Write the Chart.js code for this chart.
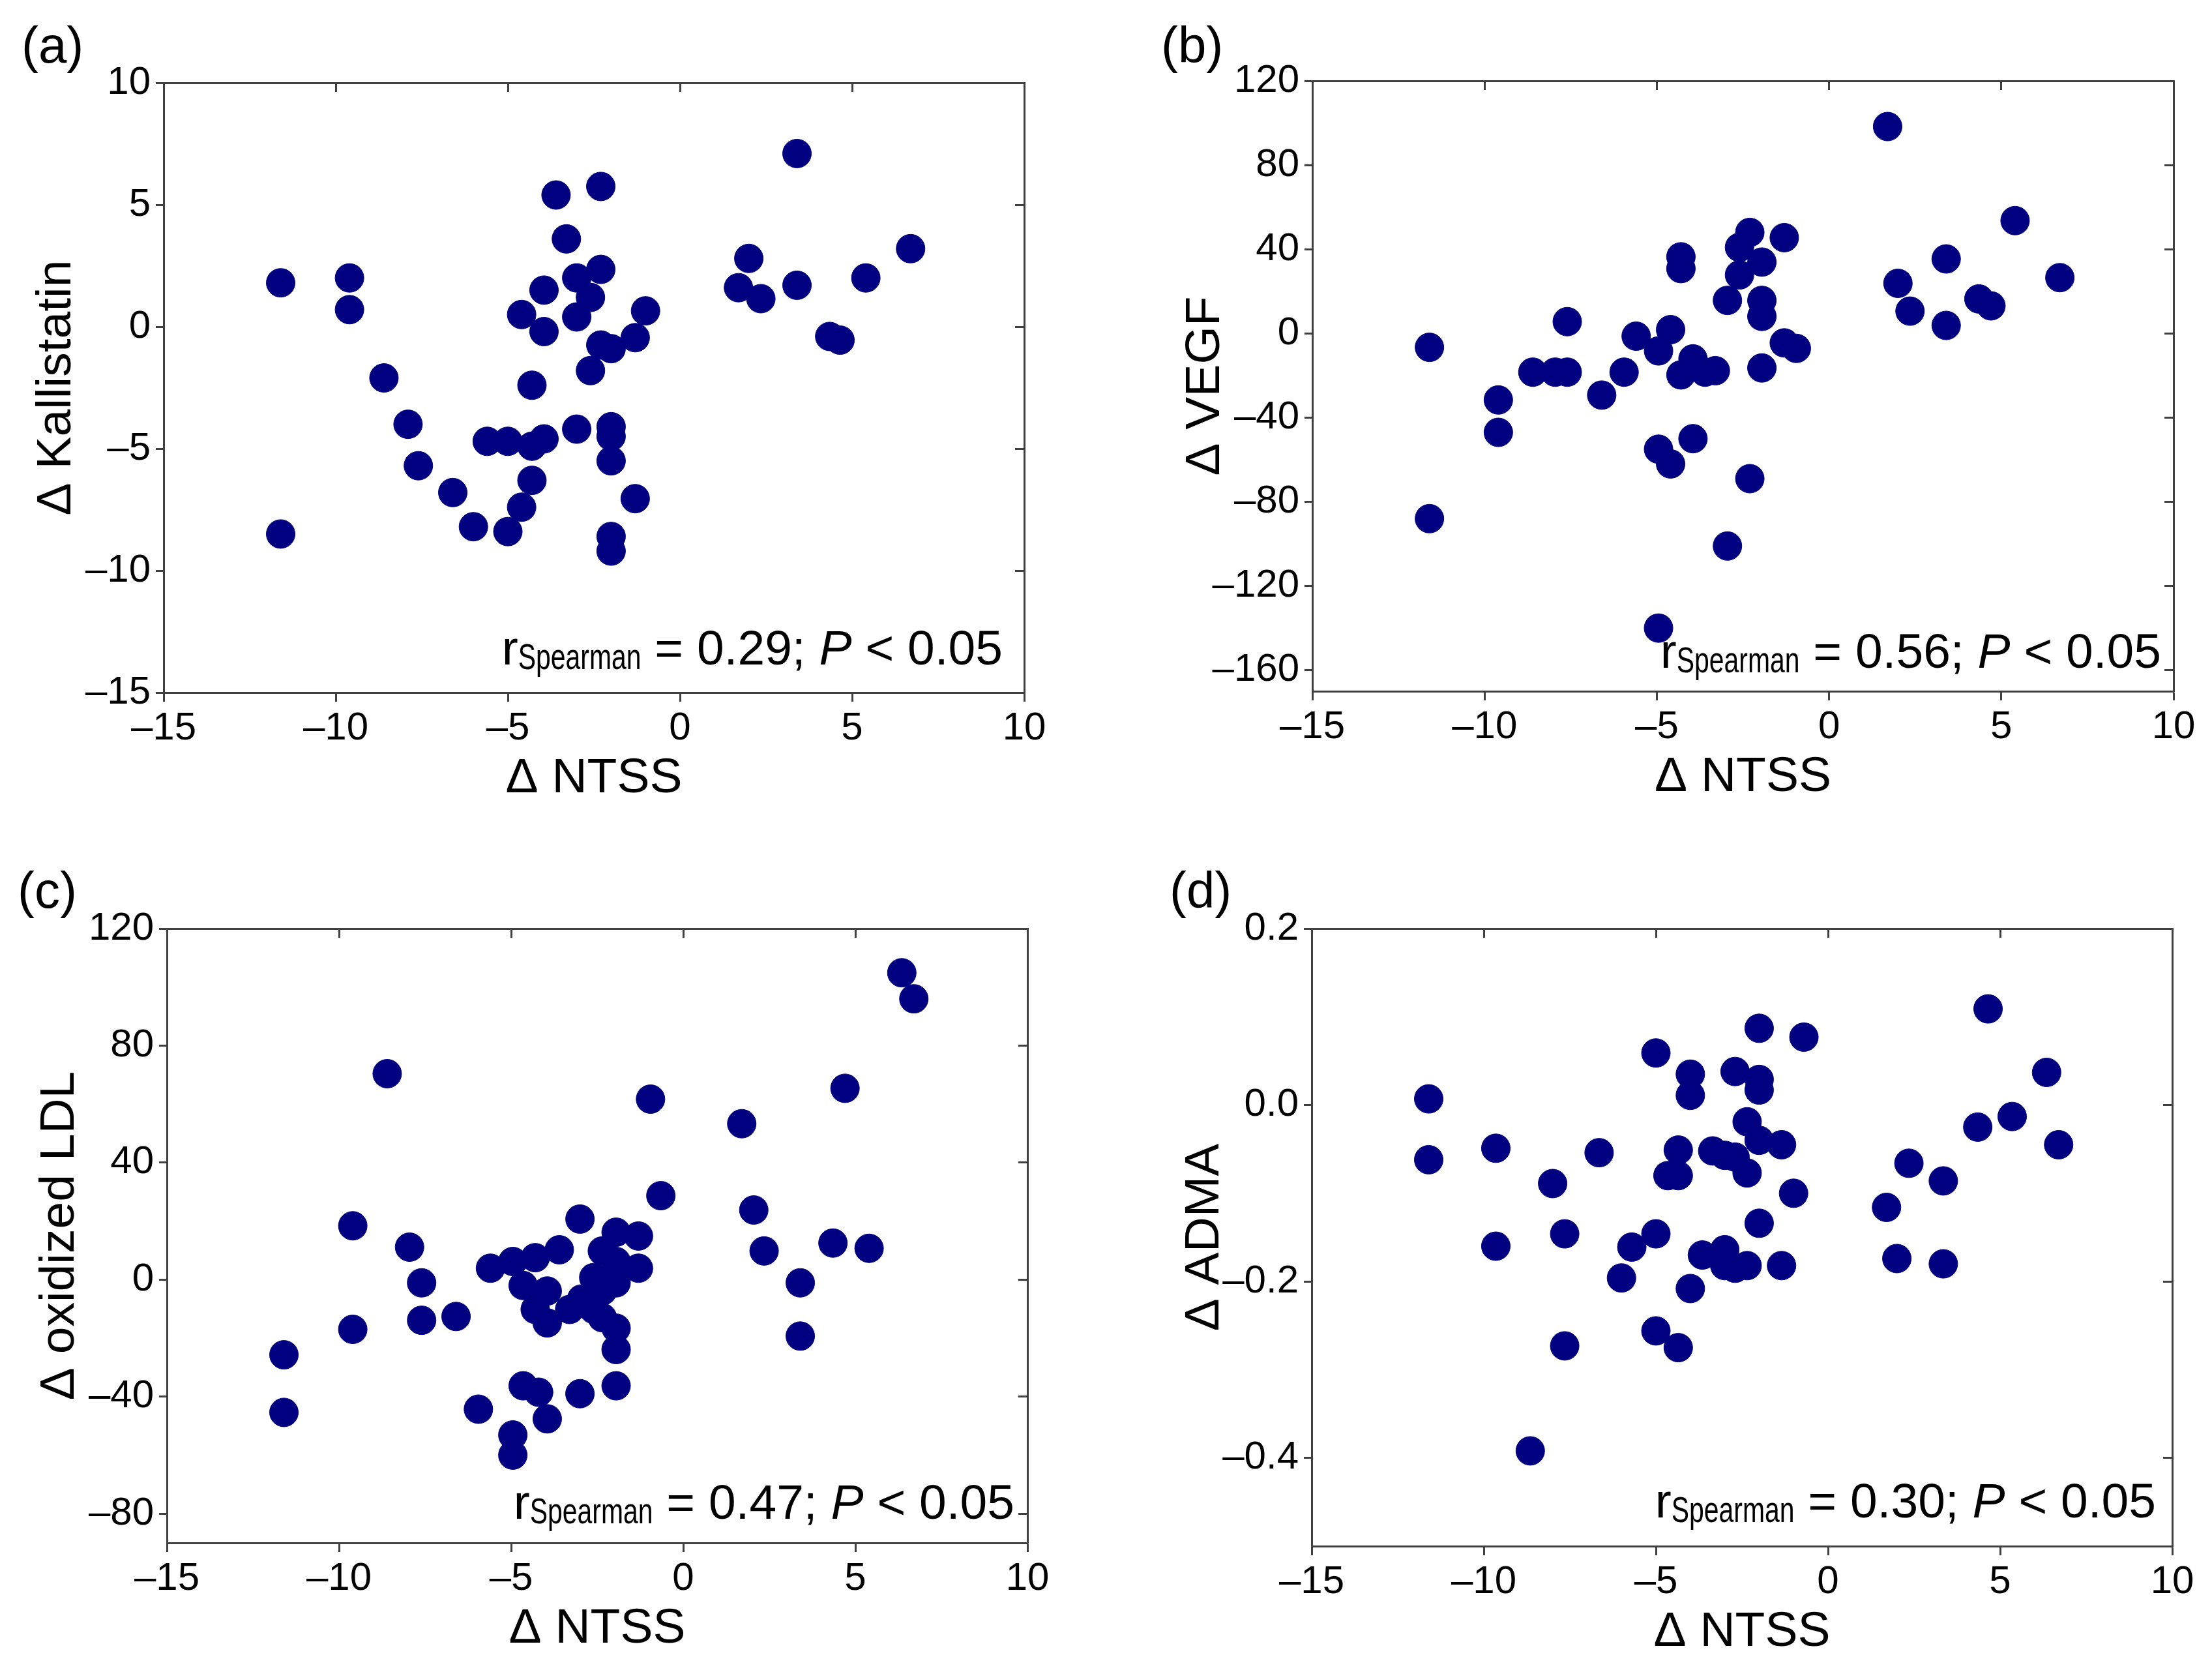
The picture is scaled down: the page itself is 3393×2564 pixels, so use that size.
<!DOCTYPE html>
<html>
<head>
<meta charset="utf-8">
<script src="https://cdn.jsdelivr.net/npm/chart.js@4.4.1/dist/chart.umd.min.js"></script>
<style>
  html, body { margin: 0; padding: 0; background: #fff; overflow: hidden; }
  #page { position: relative; width: 3393px; height: 2564px; background: #fff; overflow: hidden; }
  #page canvas { position: absolute; }
  .tag { position: absolute; font-family: "Liberation Sans", Arial, sans-serif; font-size: 78px; line-height: 78px; color: #000; }
</style>
</head>
<body>
<div id="page">
  <div class="tag" style="left:33px;top:30px">(a)</div>
  <div class="tag" style="left:1781px;top:30px">(b)</div>
  <div class="tag" style="left:27px;top:1326px">(c)</div>
  <div class="tag" style="left:1794px;top:1326px">(d)</div>
  <canvas id="chartA"></canvas>
  <canvas id="chartB"></canvas>
  <canvas id="chartC"></canvas>
  <canvas id="chartD"></canvas>
</div>
<script>
// shared x axis
const ntssTicks = [-15, -10, -5, 0, 5, 10];

// (a) kallistatin
const ntssA = [-11.6, -11.6, -9.6, -9.6, -8.6, -7.9, -7.6, -6.6, -6.0, -5.6, -5.0, -5.0, -4.6, -4.6, -4.3, -4.3,
  -4.3, -3.95, -3.95, -3.95, -3.6, -3.3, -3.0, -3.0, -3.0, -2.6, -2.6, -2.3, -2.3, -2.3, -2.0, -2.0,
  -2.0, -2.0, -2.0, -2.0, -1.3, -1.3, -1.0, 1.7, 2.0, 2.35, 3.4, 3.4, 4.35, 4.65, 5.4, 6.7];
const kallistatin = [1.8, -8.5, 2.0, 0.7, -2.1, -4.0, -5.7, -6.8, -8.2, -4.7, -4.7, -8.4, 0.5, -7.4, -6.3, -4.9,
  -2.4, 1.5, -0.2, -4.6, 5.4, 3.6, 2.0, 0.4, -4.2, -1.8, 1.2, 5.75, 2.35, -0.75, -0.9, -4.1,
  -4.5, -5.5, -8.6, -9.2, -0.45, -7.05, 0.65, 1.6, 2.8, 1.15, 7.1, 1.7, -0.4, -0.55, 2.0, 3.2];
const kallistatinTicks = [-15, -10, -5, 0, 5, 10];

// (b) VEGF
const ntssB = [-11.6, -11.6, -9.6, -9.6, -8.6, -7.95, -7.6, -7.6, -6.6, -5.95, -5.6, -4.95, -4.95, -4.95, -4.6,
  -4.6, -4.3, -4.3, -4.3, -3.95, -3.95, -3.6, -3.3, -2.95, -2.95, -2.6, -2.6, -2.3, -2.3, -1.95,
  -1.95, -1.95, -1.95, -1.3, -1.3, -0.95, 1.7, 2.0, 2.35, 3.4, 3.4, 4.35, 4.7, 5.4, 6.7];
const vegf = [-6.6, -88, -31.6, -47, -18.4, -18.4, -18.4, 5.6, -29.3, -18.4, -1.3, -55, -140, -8.3, 1.8,
  -62, 36.4, 30.8, -19.7, -50, -12.1, -18.4, -17.7, 15.7, -101, 40.9, 27.8, 48, -69, 33.9,
  15.7, 8.1, -16.4, 45.5, -4.5, -7.1, 98.3, 23.8, 10.6, 35.4, 3.8, 16.4, 13.1, 53.6, 26.5];
const vegfTicks = [-160, -120, -80, -40, 0, 40, 80, 120];

// (c) oxidized LDL
const ntssC = [-11.6, -11.6, -9.6, -9.6, -8.6, -7.95, -7.6, -7.6, -6.6, -5.95, -5.6, -4.95, -4.95, -4.95, -4.65,
  -4.65, -4.3, -4.3, -4.2, -3.95, -3.95, -3.95, -3.6, -3.3, -3.0, -3.0, -2.95, -2.6, -2.6, -2.35,
  -2.35, -2.35, -1.95, -1.95, -1.95, -1.95, -1.95, -1.95, -1.3, -1.3, -0.95, -0.65, 1.7, 2.05, 2.35,
  3.4, 3.4, 4.35, 4.7, 5.4, 6.35, 6.7];
const oxLdl = [-25.7, -45.4, 18.4, -17.0, 70.4, 11.1, -1.1, -13.9, -12.6, -44.3, 3.9, 6.2, -53.1, -60.0, -2.0,
  -36.3, 7.5, -10.2, -38.5, -3.9, -14.8, -47.6, 10.2, -10.2, 20.7, -39.0, -6.6, 0.7, -10.2, 9.8,
  -3.9, -13.0, 16.2, 6.2, -1.1, -16.6, -23.9, -36.3, 14.9, 3.9, 61.7, 28.7, 53.3, 23.8, 9.8,
  -1.1, -19.3, 12.5, 65.4, 10.7, 104.9, 96.0];
const oxLdlTicks = [-80, -40, 0, 40, 80, 120];

// (d) ADMA
const ntssD = [-11.6, -11.6, -9.65, -9.65, -8.65, -8.0, -7.65, -7.65, -6.65, -6.0, -5.7, -5.0, -5.0, -5.0, -4.65,
  -4.35, -4.35, -4.35, -4.0, -4.0, -4.0, -3.65, -3.35, -3.0, -3.0, -3.0, -2.7, -2.7, -2.7, -2.35,
  -2.35, -2.35, -2.0, -2.0, -2.0, -2.0, -2.0, -1.35, -1.35, -1.0, -0.7, 1.7, 2.0, 2.35, 3.35,
  3.35, 4.35, 4.65, 5.35, 6.35, 6.7];
const adma = [0.007, -0.062, -0.049, -0.160, -0.392, -0.089, -0.146, -0.273, -0.054, -0.196, -0.161, 0.059, -0.146, -0.256, -0.080,
  -0.051, -0.080, -0.275, 0.035, 0.011, -0.208, -0.170, -0.052, -0.057, -0.164, -0.182, 0.038, -0.059, -0.185, -0.019,
  -0.077, -0.182, 0.087, 0.029, 0.017, -0.040, -0.134, -0.045, -0.182, -0.100, 0.077, -0.116, -0.174, -0.066, -0.086,
  -0.180, -0.025, 0.109, -0.013, 0.037, -0.045];
const admaTicks = [-0.4, -0.2, 0.0, 0.2];

const rhoValues = ['0.29', '0.56', '0.47', '0.30'];

const FONT = "'Liberation Sans', Arial, sans-serif";
const AXIS = '#404040';
const DOT = '#000080';
Chart.defaults.font.family = FONT;

function fmtTick(v, decimals) {
  return (decimals ? v.toFixed(decimals) : String(v)).replace('-', '\u2013');
}

// draws r_Spearman = ...; P < 0.05 in the lower right of the plot
const notePlugin = {
  id: 'note',
  afterDraw(chart, args, opts) {
    const ctx = chart.ctx;
    const area = chart.chartArea;
    const main = '75px ' + FONT;
    const ital = 'italic 75px ' + FONT;
    const sub = '56px ' + FONT;
    const squeeze = 0.73;
    const parts = [
      { t: 'r', f: main, s: 1, dy: 0 },
      { t: 'Spearman', f: sub, s: squeeze, dy: 7 },
      { t: ' = ' + opts.rho + '; ', f: main, s: 1, dy: 0 },
      { t: 'P', f: ital, s: 1, dy: 0 },
      { t: ' < 0.05', f: main, s: 1, dy: 0 }
    ];
    ctx.save();
    let total = 0;
    parts.forEach(p => { ctx.font = p.f; p.w = ctx.measureText(p.t).width * p.s; total += p.w; });
    let x = area.right - opts.right - total;
    const base = area.bottom - opts.bottom;
    ctx.fillStyle = '#000';
    ctx.textBaseline = 'alphabetic';
    ctx.textAlign = 'left';
    parts.forEach(p => {
      ctx.font = p.f;
      ctx.save();
      ctx.translate(x, base + p.dy);
      ctx.scale(p.s, 1);
      ctx.fillText(p.t, 0, 0);
      ctx.restore();
      x += p.w;
    });
    ctx.restore();
  }
};

function makePanel(id, area, xs, ys, yTicks, yMin, yMax, yTitle, rho, note, decimals) {
  const canvas = document.getElementById(id);
  const chartH = area.b - area.t;
  const w = area.r - area.l + 251 + 125;
  const h = 1282;
  canvas.width = w;
  canvas.height = h;
  canvas.style.width = w + 'px';
  canvas.style.height = h + 'px';
  canvas.style.left = (area.l - 251) + 'px';
  canvas.style.top = (area.t - 127) + 'px';

  const setTicks = vals => scale => { scale.ticks = vals.map(v => ({ value: v })); };
  const mirrorGrid = { drawOnChartArea: false, drawTicks: true, tickLength: -14, tickWidth: 3, tickColor: AXIS };
  const border = { display: true, width: 3, color: AXIS };

  return new Chart(canvas, {
    type: 'scatter',
    data: {
      datasets: [{
        data: xs.map((x, i) => ({ x: x, y: ys[i] })),
        pointRadius: 22,
        pointHoverRadius: 22,
        pointBackgroundColor: DOT,
        pointBorderColor: DOT,
        pointBorderWidth: 1,
        showLine: false,
        clip: false
      }]
    },
    options: {
      responsive: false,
      animation: false,
      devicePixelRatio: 1,
      layout: { padding: { left: 0, top: 127, right: 125, bottom: 0 } },
      plugins: {
        legend: { display: false },
        tooltip: { enabled: false },
        note: { rho: rho, right: note[0], bottom: note[1] }
      },
      scales: {
        x: {
          type: 'linear', position: 'bottom', min: -15, max: 10,
          afterBuildTicks: setTicks(ntssTicks),
          afterFit: s => { s.height = h - 127 - chartH; },
          ticks: { color: '#000', font: { size: 60 }, padding: 5, maxRotation: 0, autoSkip: false,
            callback: v => fmtTick(v, 0) },
          grid: { drawOnChartArea: false, drawTicks: true, tickLength: 14, tickWidth: 3, tickColor: AXIS },
          border: border,
          title: { display: true, text: '\u0394 NTSS', color: '#000', font: { size: 75 },
            padding: { top: 0, bottom: 978 - chartH } }
        },
        y: {
          type: 'linear', position: 'left', min: yMin, max: yMax,
          afterBuildTicks: setTicks(yTicks),
          afterFit: s => { s.width = 251; },
          ticks: { color: '#000', font: { size: 60 }, padding: 8, autoSkip: false,
            callback: v => fmtTick(v, decimals) },
          grid: { drawOnChartArea: false, drawTicks: true, tickLength: 12, tickWidth: 3, tickColor: AXIS },
          border: border,
          title: { display: true, text: yTitle, color: '#000', font: { size: 75 },
            padding: { top: 42, bottom: 0 } }
        },
        x2: {
          type: 'linear', position: 'top', min: -15, max: 10,
          afterBuildTicks: setTicks(ntssTicks),
          afterFit: s => { s.height = 0; },
          ticks: { display: false },
          grid: mirrorGrid,
          border: border
        },
        y2: {
          type: 'linear', position: 'right', min: yMin, max: yMax,
          afterBuildTicks: setTicks(yTicks),
          afterFit: s => { s.width = 0; },
          ticks: { display: false },
          grid: mirrorGrid,
          border: border
        }
      }
    },
    plugins: [notePlugin]
  });
}

makePanel('chartA', { l: 251, t: 127, r: 1571, b: 1062 }, ntssA, kallistatin, kallistatinTicks,
  -15, 10, '\u0394 Kallistatin', rhoValues[0], [33, 43], 0);
makePanel('chartB', { l: 2013, t: 124, r: 3334, b: 1060 }, ntssB, vegf, vegfTicks,
  -170, 120, '\u0394 VEGF', rhoValues[1], [19, 36], 0);
makePanel('chartC', { l: 256, t: 1424, r: 1576, b: 2366 }, ntssC, oxLdl, oxLdlTicks,
  -90, 120, '\u0394 oxidized LDL', rhoValues[2], [20, 37], 0);
makePanel('chartD', { l: 2012, t: 1424, r: 3332, b: 2371 }, ntssD, adma, admaTicks,
  -0.5, 0.2, '\u0394 ADMA', rhoValues[3], [25, 44], 1);
</script>
</body>
</html>
